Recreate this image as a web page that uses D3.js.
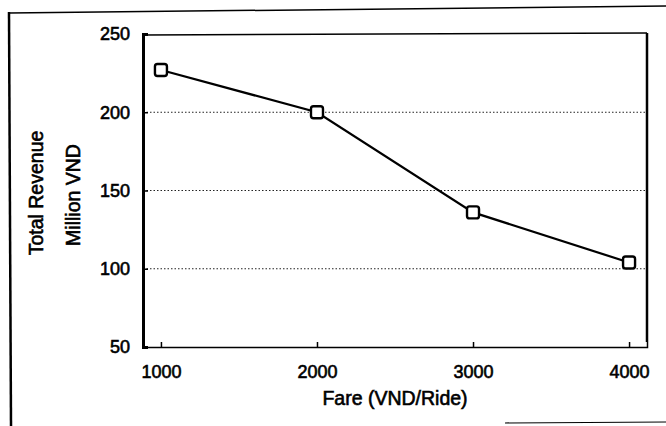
<!DOCTYPE html>
<html>
<head>
<meta charset="utf-8">
<script src="https://cdn.jsdelivr.net/npm/d3@7"></script>
<style>
  html, body { margin: 0; padding: 0; background: #fff; }
  svg { display: block; }
  text { font-family: "Liberation Sans", Arial, sans-serif; fill: #000; }
</style>
</head>
<body>
<svg id="chart" width="666" height="426"></svg>
<script>
// ---- data ----
const fares = [1000, 2000, 3000, 4000];
const revenue = [227, 200, 136, 104];
const xTickValues = [1000, 2000, 3000, 4000];
const yTickValues = [50, 100, 150, 200, 250];
const gridValues = [100, 150, 200];
const xTitle = "Fare (VND/Ride)";
const yTitleLines = ["Total Revenue", "Million VND"];

(function () {
const svg = d3.select("#chart");
const W = 666, H = 426;

const pLeft = 143, pRight = 647, pTop = 34, pBottom = 347;

const x = d3.scaleLinear().domain([885, 4115]).range([pLeft, pRight]);
const y = d3.scaleLinear().domain([50, 250]).range([pBottom, pTop]);

// outer frame (scanned box)
svg.append("line").attr("x1", 9).attr("y1", 12).attr("x2", 11).attr("y2", H)
  .attr("stroke", "#000").attr("stroke-width", 2.5);
svg.append("line").attr("x1", 9).attr("y1", 13).attr("x2", W).attr("y2", 6)
  .attr("stroke", "#000").attr("stroke-width", 1.5);
svg.append("line").attr("x1", 505).attr("y1", 423).attr("x2", W).attr("y2", 422)
  .attr("stroke", "#000").attr("stroke-width", 1.2);

// gridlines
svg.append("g").selectAll("line").data(gridValues).join("line")
  .attr("x1", pLeft).attr("x2", pRight)
  .attr("y1", d => y(d)).attr("y2", d => y(d))
  .attr("stroke", "#222").attr("stroke-width", 1)
  .attr("stroke-dasharray", "1.5,2");

// plot frame: top & right
svg.append("line").attr("x1", pLeft).attr("x2", pRight).attr("y1", pTop + 1).attr("y2", pTop - 1)
  .attr("stroke", "#000").attr("stroke-width", 1.5);
svg.append("line").attr("x1", pRight).attr("x2", pRight).attr("y1", pTop - 1).attr("y2", pBottom - 5)
  .attr("stroke", "#000").attr("stroke-width", 2.5);

// axes
const xAxis = d3.axisBottom(x).tickValues(xTickValues).tickSize(-5).tickPadding(14).tickFormat(d3.format("d"));
const gx = svg.append("g").attr("transform", `translate(0,${pBottom})`).call(xAxis);
gx.select(".domain").attr("stroke", "#000").attr("stroke-width", 1.5);
gx.selectAll(".tick line").attr("stroke", "#000").attr("stroke-width", 1.5);
gx.selectAll(".tick text").attr("font-size", 18).attr("font-family", "Liberation Sans, Arial, sans-serif")
  .attr("fill", "#000").attr("stroke", "#000").attr("stroke-width", 0.6).attr("dy", "0.95em");

const yAxis = d3.axisLeft(y).tickValues(yTickValues).tickSize(-5).tickPadding(13);
const gy = svg.append("g").attr("transform", `translate(${pLeft},0)`).call(yAxis);
gy.select(".domain").attr("stroke", "#000").attr("stroke-width", 3);
gy.selectAll(".tick line").attr("stroke", "#000").attr("stroke-width", 1.5);
gy.selectAll(".tick text").attr("font-size", 18).attr("font-family", "Liberation Sans, Arial, sans-serif")
  .attr("fill", "#000").attr("stroke", "#000").attr("stroke-width", 0.6);

// line
const line = d3.line().x((d, i) => x(fares[i])).y(d => y(d));
svg.append("path").datum(revenue).attr("d", line)
  .attr("fill", "none").attr("stroke", "#000").attr("stroke-width", 2.2);

// markers
const ms = 12;
svg.append("g").selectAll("rect").data(revenue).join("rect")
  .attr("x", (d, i) => x(fares[i]) - ms / 2)
  .attr("y", d => y(d) - ms / 2)
  .attr("width", ms).attr("height", ms).attr("rx", 2.5)
  .attr("fill", "#fff").attr("stroke", "#000").attr("stroke-width", 2.4);

// axis titles
svg.append("text").text(xTitle)
  .attr("x", 395).attr("y", 405).attr("text-anchor", "middle")
  .attr("font-size", 19.5).attr("stroke", "#000").attr("stroke-width", 0.6);

const yTitleX = [43, 80];
svg.append("g").selectAll("text").data(yTitleLines).join("text")
  .text(d => d)
  .attr("transform", (d, i) => `translate(${yTitleX[i]},${i === 0 ? 193 : 195}) rotate(-90)`)
  .attr("text-anchor", "middle")
  .attr("font-size", 19.5).attr("stroke", "#000").attr("stroke-width", 0.6);
})();
</script>
</body>
</html>
